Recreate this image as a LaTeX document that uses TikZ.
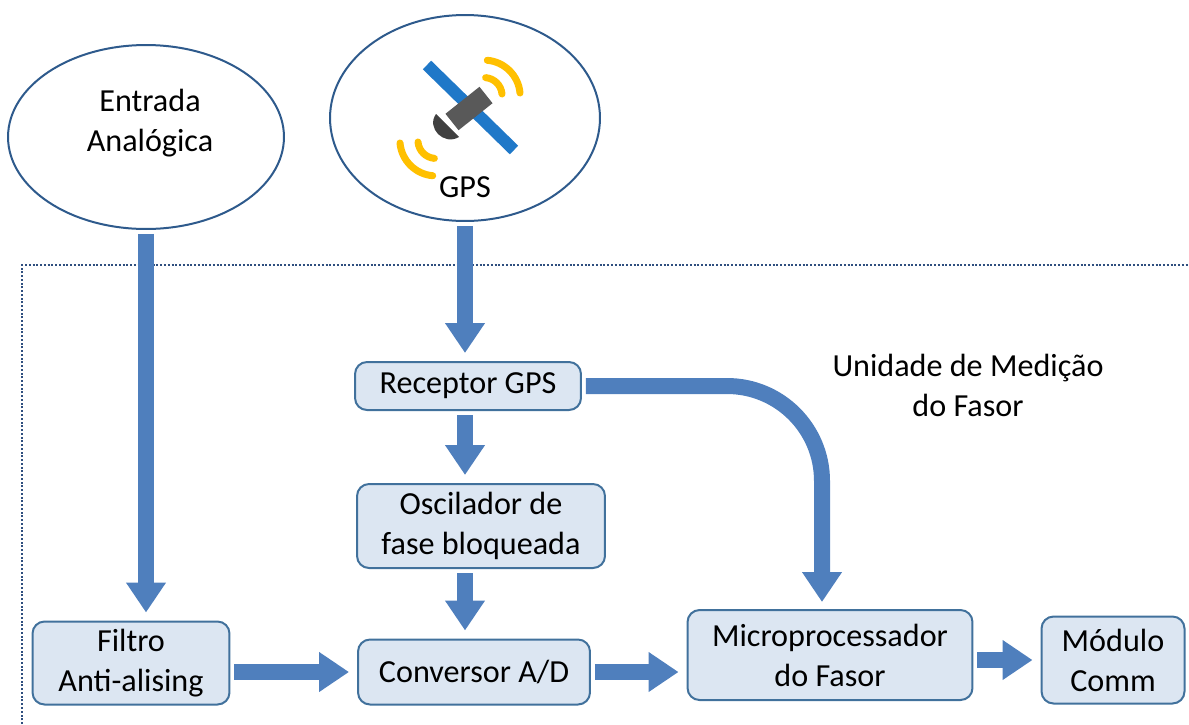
\documentclass[tikz,border=0pt]{standalone}
\usepackage{fontspec}
\setmainfont{Carlito}
\usetikzlibrary{arrows.meta,shapes.geometric}
\definecolor{boxfill}{HTML}{DCE6F2}
\definecolor{boxline}{HTML}{41719C}
\definecolor{ellline}{HTML}{2E5A8C}
\definecolor{flowblue}{HTML}{4F7FBD}
\definecolor{frameblue}{HTML}{2F4F7F}
\definecolor{panelblue}{HTML}{1F78C8}
\definecolor{signal}{HTML}{FFC000}
\def\nodetext{\fontsize{18.3}{22.8}\selectfont}
\tikzset{box:style/.style={draw=boxline,fill=boxfill,line width=0.04cm,rounded corners=0.24cm,align=center,inner sep=0pt,font=\nodetext}}
\tikzset{ell:style/.style={draw=ellline,fill=white,line width=0.04cm,shape=ellipse,inner sep=0pt}}
\tikzset{label:style/.style={align=center,font=\nodetext}}
\tikzset{flow:style/.style={draw=flowblue,line width=0.32cm,-{Triangle[length=0.6cm,width=0.76cm]},shorten <=0.08cm,shorten >=0.16cm}}
\tikzset{sig:style/.style={draw=signal,line width=0.14cm,line cap=round}}

\begin{document}
\begin{tikzpicture}[x=0.02cm,y=-0.02cm]
	\useasboundingbox (0,0) rectangle (1189,724);
	
	% frame of the unit
	\draw[frameblue,line width=0.04cm,densely dotted] (22,724) -- (22,265) -- (1189,265);
	
	\path (146,137) node[ell:style,minimum width=5.52cm,minimum height=3.68cm] (ent) {};
	\path (465,118) node[ell:style,minimum width=5.40cm,minimum height=4.12cm] (gps) {};
	\path (150,123) node[label:style] (enttext) {Entrada\\Analógica};
	\path (465,187) node[label:style] (gpstext) {GPS};
	
	% satellite
	\draw[panelblue,line width=0.24cm] (427,65) -- (514,150);
	\draw[gray!70!black,line width=0.42cm] (486,95) -- (452,122);
	\fill[black!75] (436,114) .. controls (426,128) and (444,146) .. (459,137) -- cycle;
	\draw[sig:style] (520,93) arc[start angle=5,end angle=85,radius=0.72cm];
	\draw[sig:style] (502,94) arc[start angle=5,end angle=85,radius=0.36cm];
	\draw[sig:style] (400,143) arc[start angle=185,end angle=265,radius=0.72cm];
	\draw[sig:style] (418,142) arc[start angle=185,end angle=265,radius=0.36cm];
	
	\path (468,386) node[box:style,minimum width=4.52cm,minimum height=0.96cm] (rx) {Receptor GPS};
	\path (481,526) node[box:style,minimum width=4.96cm,minimum height=1.68cm] (osc) {Oscilador de\\fase bloqueada};
	\path (474,672) node[box:style,minimum width=4.64cm,minimum height=1.30cm] (cv) {Conversor A/D};
	\path (131,663) node[box:style,minimum width=3.94cm,minimum height=1.66cm] (flt) {Filtro\\Anti-alising};
	\path (830,655) node[box:style,minimum width=5.70cm,minimum height=1.80cm] (mp) {Microprocessador\\do Fasor};
	\path (1113,660) node[box:style,minimum width=2.86cm,minimum height=1.74cm] (md) {Módulo\\Comm};
	\path (968,385) node[label:style] (pmu) {Unidade de Medição\\do Fasor};
	
	\path (822,610) coordinate (mpin);
	
	\path[flow:style] (ent.south) -- (ent.south |- flt.north);
	\path[flow:style] (gps.south) -- (gps.south |- rx.north);
	\path[flow:style] (rx.south -| gps.south) -- (gps.south |- osc.north);
	\path[flow:style] (osc.south -| gps.south) -- (gps.south |- cv.north);
	\path[flow:style,rounded corners=1.9cm] (rx.east) -- (rx.east -| mpin) -- (mpin);
	\path[flow:style] (flt.east |- cv.west) -- (cv.west);
	\path[flow:style] (cv.east) -- (cv.east -| mp.west);
	\path[flow:style] (md.west -| mp.east) -- (md.west);
	
\end{tikzpicture}
\end{document}
